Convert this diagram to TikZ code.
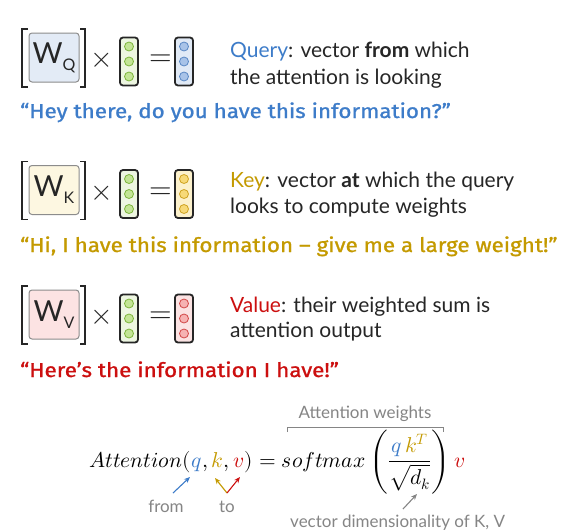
\documentclass[tikz,border=0pt]{standalone}
\usepackage{fontspec}
\usepackage{unicode-math}
\setmainfont{Lato}
\setmathfont{Latin Modern Math}
\newfontfamily\quotefont[FakeBold=1.1,FakeStretch=1.12]{Fira Sans}
\usetikzlibrary{arrows.meta,calc}
\definecolor{qblue}{HTML}{3D7CC9}
\definecolor{kgold}{HTML}{C49A00}
\definecolor{vred}{HTML}{CC0F0F}
\definecolor{txt}{HTML}{262626}
\definecolor{lbl}{HTML}{858585}
\definecolor{qw}{HTML}{E3EBF6}
\definecolor{kw}{HTML}{FDF7E1}
\definecolor{vw}{HTML}{FCE3E3}
\definecolor{inf}{HTML}{EDF6E1}
\definecolor{indot}{HTML}{C3E596}
\definecolor{indotd}{HTML}{7DB53C}
\definecolor{qof}{HTML}{E1EAF6}
\definecolor{qdot}{HTML}{A8C3E8}
\definecolor{qdotd}{HTML}{5A88C4}
\definecolor{kof}{HTML}{FCF1CC}
\definecolor{kdot}{HTML}{F7D977}
\definecolor{kdotd}{HTML}{CFA322}
\definecolor{vof}{HTML}{FBE3E3}
\definecolor{vdot}{HTML}{F6B2B2}
\definecolor{vdotd}{HTML}{D24848}
\tikzset{
  wbox/.style={draw=black!45, line width=1pt, rounded corners=3pt, minimum width=50pt, minimum height=49pt, inner sep=0pt, text=txt},
  vecbox/.style={draw=black!85, line width=1.8pt, rounded corners=3pt, minimum width=18pt, minimum height=48pt, inner sep=0pt},
  vdot/.style={circle, minimum size=9pt, inner sep=0pt, line width=0.8pt},
  brk/.style={line width=1.8pt, black!85},
  op/.style={inner sep=0pt, text=txt},
  body/.style={anchor=base west, inner sep=0pt, font=\fontsize{21}{25}\selectfont, text=txt},
  quote/.style={anchor=base west, inner sep=0pt, font=\quotefont\fontsize{20}{24}\selectfont},
  eq/.style={anchor=base west, inner sep=0pt, font=\fontsize{21.5}{26}\selectfont},
  glabel/.style={inner sep=0pt, font=\fontsize{17}{20}\selectfont, text=lbl},
  arr/.style={-{Stealth[length=6pt,width=5pt]}, line width=1.1pt},
}
\newcommand\attrow[8]{%
  \node[wbox, fill=#4] (#1w) at (54,#2-2) {{\fontsize{29}{29}\selectfont W}\raisebox{-7pt}{\fontsize{16}{16}\selectfont #3}};
  \draw[brk] (28,#2-30.5) -- (22,#2-30.5) -- (22,#2+27.5) -- (28,#2+27.5);
  \draw[brk] (80,#2-30.5) -- (85,#2-30.5) -- (85,#2+27.5) -- (80,#2+27.5);
  \node[op, font=\fontsize{29}{29}\selectfont] (#1x) at (101.5,#2+1) {$\times$};
  \node[vecbox, fill=inf] (#1i) at (129,#2+2) {};
  \foreach \k/\d in {1/-15,2/0,3/15} \node[vdot, fill=indot, draw=indotd] (#1i\k) at (129,#2+2+\d) {};
  \node[op, font=\fontsize{29}{29}\selectfont] (#1e) at (160.5,#2+1) {$=$};
  \node[vecbox, fill=#5] (#1o) at (184,#2+2) {};
  \foreach \k/\d in {1/-15,2/0,3/15} \node[vdot, fill=#6, draw=#7] (#1o\k) at (184,#2+2+\d) {};
}
\begin{document}
\begin{tikzpicture}[x=1pt,y=-1pt]
\useasboundingbox[fill=white] (0,0) rectangle (581,530);
% rows
\attrow{q}{59.5}{Q}{qw}{qof}{qdot}{qdotd}{}
\attrow{k}{192}{K}{kw}{kof}{kdot}{kdotd}{}
\attrow{v}{316.5}{V}{vw}{vof}{vdot}{vdotd}{}
% descriptions
\node[body] (qt1) at (230,57) {\textcolor{qblue}{Query}: vector \textbf{from} which};
\node[body] (qt2) at (230,84) {the attention is looking};
\node[quote, text=qblue] (qq) at (20,118) {“Hey there, do you have this information?”};
\node[body] (kt1) at (230,187) {\textcolor{kgold}{Key}: vector \textbf{at} which the query};
\node[body] (kt2) at (230,213) {looks to compute weights};
\node[quote, text=kgold] (kq) at (20,252) {“Hi, I have this information – give me a large weight!”};
\node[body] (vt1) at (230,312) {\textcolor{vred}{Value}: their weighted sum is};
\node[body] (vt2) at (230,337) {attention output};
\node[quote, text=vred] (vq) at (20,377) {“Here’s the information I have!”};
% equation
\node[eq] (ea) at (89,467) {$Attention($};
\node[eq] (eqq) at (ea.base east) {$\textcolor{qblue}{q}$};
\node[eq] (ec1) at (eqq.base east) {$,\,$};
\node[eq] (eqk) at (ec1.base east) {$\textcolor{kgold}{k}$};
\node[eq] (ec2) at (eqk.base east) {$,\,$};
\node[eq] (eqv) at (ec2.base east) {$\textcolor{vred}{v}$};
\node[eq] (eb) at (eqv.base east) {$) = softmax\left(\dfrac{\textcolor{qblue}{q}\,\textcolor{kgold}{k^{T}}}{\sqrt{d_k}}\right)$};
\node[eq] (ev) at (eb.base east) {$\,\textcolor{vred}{v}$};
% attention weights bracket
\coordinate (aw1) at (287,432);
\coordinate (aw2) at (443,432);
\draw[lbl, line width=1pt] (aw1) -- ++(0,-5) -- ($(aw2)+(0,-5)$) -- (aw2);
\node[glabel, anchor=base] (awl) at (365,418) {Attention weights};
% labels and arrows
\node[glabel, anchor=base] (from) at (166,512) {from};
\node[glabel, anchor=base] (to) at (227,512) {to};
\node[glabel, anchor=base west] (dim) at (290,527) {vector dimensionality of K, V};
\coordinate (qtip) at (190,477);
\coordinate (ktip) at (215,478);
\coordinate (vtip) at (240,477);
\coordinate (fromtop) at (173,493);
\coordinate (totop) at (227,493);
\draw[arr, qblue] (fromtop) -- (qtip);
\draw[arr, kgold] (totop) -- (ktip);
\draw[arr, vred] (totop) -- (vtip);
\coordinate (dkfrom) at (403,509);
\coordinate (dkto) at (417,494);
\draw[arr, lbl] (dkfrom) -- (dkto);
\end{tikzpicture}
\end{document}
